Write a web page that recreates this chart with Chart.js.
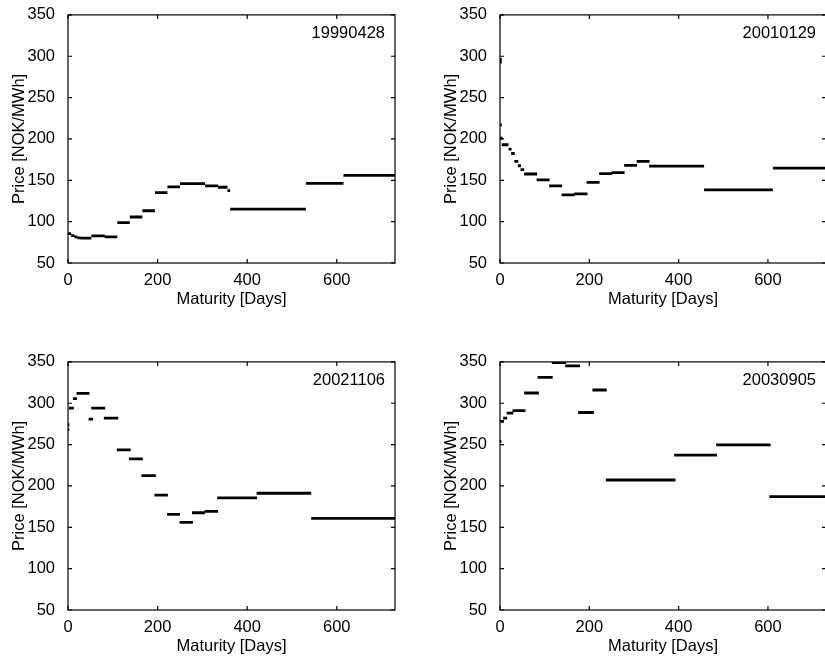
<!DOCTYPE html>
<html>
<head>
<meta charset="utf-8">
<script src="https://cdn.jsdelivr.net/npm/chart.js@4.4.1/dist/chart.umd.min.js"></script>
<style>
  html, body { margin: 0; padding: 0; background: #fff; overflow: hidden; width: 825px; height: 659px; }
  .panel { position: absolute; }
</style>
</head>
<body>
<div class="panel" style="left:0px;top:0px;width:400px;height:312px"><canvas id="p1"></canvas></div>
<div class="panel" style="left:432px;top:0px;width:399px;height:312px"><canvas id="p2"></canvas></div>
<div class="panel" style="left:0px;top:347px;width:400px;height:312px"><canvas id="p3"></canvas></div>
<div class="panel" style="left:432px;top:347px;width:399px;height:312px"><canvas id="p4"></canvas></div>
<script>
// tick labels shared by every panel
const xTickValues = [0, 200, 400, 600];
const yTickValues = [50, 100, 150, 200, 250, 300, 350];
const panelDates = ["19990428", "20010129", "20021106", "20030905"];

// each contract: delivery start day, end day, price (NOK/MWh)
const p1Start = [0, 7, 14, 21, 28, 52, 82, 110, 138, 166, 194, 222, 250, 306, 335, 356, 362, 531, 615];
const p1End = [7, 14, 21, 28, 52, 82, 110, 138, 166, 194, 222, 250, 306, 335, 356, 362, 531, 615, 730];
const p1Price = [85.5, 83, 81.5, 80.5, 80, 82.8, 81.6, 98.8, 105.6, 113.2, 135.2, 142, 146, 143.2, 141.6, 137.6, 115.2, 146.4, 156];

const p2Start = [0, 0, 0, 0, 4, 19, 25, 32, 40, 46, 54, 82, 110, 138, 166, 194, 222, 250, 278, 306, 334, 457, 611];
const p2End = [4, 4, 4, 6, 19, 26, 33, 41, 47, 54, 83, 111, 139, 167, 196, 223, 251, 279, 307, 335, 457, 611, 730];
const p2Price = [296, 293, 217, 201, 193, 187.6, 182.4, 173, 167.6, 163, 157.6, 150.4, 143.2, 132.4, 133.6, 147.6, 158, 159.2, 168, 172.8, 167.2, 138.4, 164.8];

const p3Start = [0, 0, 2, 11, 19, 46, 52, 80, 109, 136, 164, 193, 221, 249, 277, 305, 333, 421, 543];
const p3End = [3, 3, 13, 20, 48, 56, 83, 112, 140, 167, 196, 223, 250, 279, 306, 335, 422, 543, 730];
const p3Price = [274, 268, 294, 305.6, 312, 280.8, 294, 282, 243.6, 232.8, 212.4, 188.8, 165.6, 156, 167.6, 169.2, 185.6, 191.2, 160.8];

const p4Start = [0, 0, 7, 15, 28, 54, 84, 116, 146, 175, 207, 237, 390, 484, 603];
const p4End = [3, 9, 16, 30, 57, 87, 118, 148, 179, 210, 239, 393, 486, 606, 730];
const p4Price = [254, 278, 282, 288, 291.2, 312.4, 331.2, 349.2, 345.2, 288.8, 316, 207.2, 237.2, 249.6, 187.2];

const FONT = "'Liberation Sans', Arial, Helvetica, sans-serif";
Chart.defaults.font.family = FONT;
Chart.defaults.font.size = 16.5;
Chart.defaults.color = "#000";

function toSegments(starts, ends, prices) {
  const pts = [];
  starts.forEach((s, i) => {
    pts.push({ x: s, y: prices[i] });
    pts.push({ x: ends[i], y: prices[i] });
    pts.push({ x: ends[i], y: null });
  });
  return pts;
}

// matlab style box with inward ticks and date label in the corner
const matlabBox = {
  id: "matlabBox",
  afterDraw(chart, args, opts) {
    const { ctx, chartArea: a, scales } = chart;
    ctx.save();
    ctx.strokeStyle = "#000";
    ctx.lineWidth = 1.2;
    ctx.strokeRect(a.left, a.top, a.right - a.left, a.bottom - a.top);
    ctx.beginPath();
    xTickValues.forEach((v) => {
      const px = scales.x.getPixelForValue(v);
      ctx.moveTo(px, a.bottom); ctx.lineTo(px, a.bottom - 4);
      ctx.moveTo(px, a.top); ctx.lineTo(px, a.top + 4);
    });
    yTickValues.forEach((v) => {
      const py = scales.y.getPixelForValue(v);
      ctx.moveTo(a.left, py); ctx.lineTo(a.left + 4, py);
      ctx.moveTo(a.right, py); ctx.lineTo(a.right - 4, py);
    });
    ctx.stroke();
    ctx.font = "16.5px " + FONT;
    ctx.fillStyle = "#000";
    ctx.textAlign = "right";
    ctx.textBaseline = "alphabetic";
    ctx.fillText(opts.text, a.right - 10, a.top + 23);
    ctx.restore();
  },
};

function makePanel(id, label, starts, ends, prices) {
  new Chart(document.getElementById(id), {
    type: "line",
    data: {
      datasets: [
        {
          data: toSegments(starts, ends, prices),
          borderColor: "#000",
          borderWidth: 2.8,
          pointRadius: 0,
          spanGaps: false,
          tension: 0,
        },
      ],
    },
    options: {
      responsive: true,
      maintainAspectRatio: false,
      animation: false,
      layout: { padding: { left: 0, top: 13, right: 5, bottom: 0 } },
      plugins: {
        legend: { display: false },
        tooltip: { enabled: false },
        matlabBox: { text: label },
      },
      scales: {
        x: {
          type: "linear",
          min: 0,
          max: 730,
          grid: { display: false },
          border: { display: false },
          afterBuildTicks: (s) => { s.ticks = xTickValues.map((v) => ({ value: v })); },
          afterFit: (s) => { s.height = 49; },
          ticks: { padding: 0, maxRotation: 0 },
          title: { display: true, text: "Maturity [Days]", padding: { top: 0, bottom: 2.5 } },
        },
        y: {
          min: 50,
          max: 350,
          grid: { display: false },
          border: { display: false },
          afterBuildTicks: (s) => { s.ticks = yTickValues.map((v) => ({ value: v })); },
          afterFit: (s) => { s.width = 68; },
          ticks: { padding: 5 },
          title: { display: true, text: "Price [NOK/MWh]", padding: { top: 10, bottom: 0 } },
        },
      },
    },
    plugins: [matlabBox],
  });
}

makePanel("p1", panelDates[0], p1Start, p1End, p1Price);
makePanel("p2", panelDates[1], p2Start, p2End, p2Price);
makePanel("p3", panelDates[2], p3Start, p3End, p3Price);
makePanel("p4", panelDates[3], p4Start, p4End, p4Price);
</script>
</body>
</html>
